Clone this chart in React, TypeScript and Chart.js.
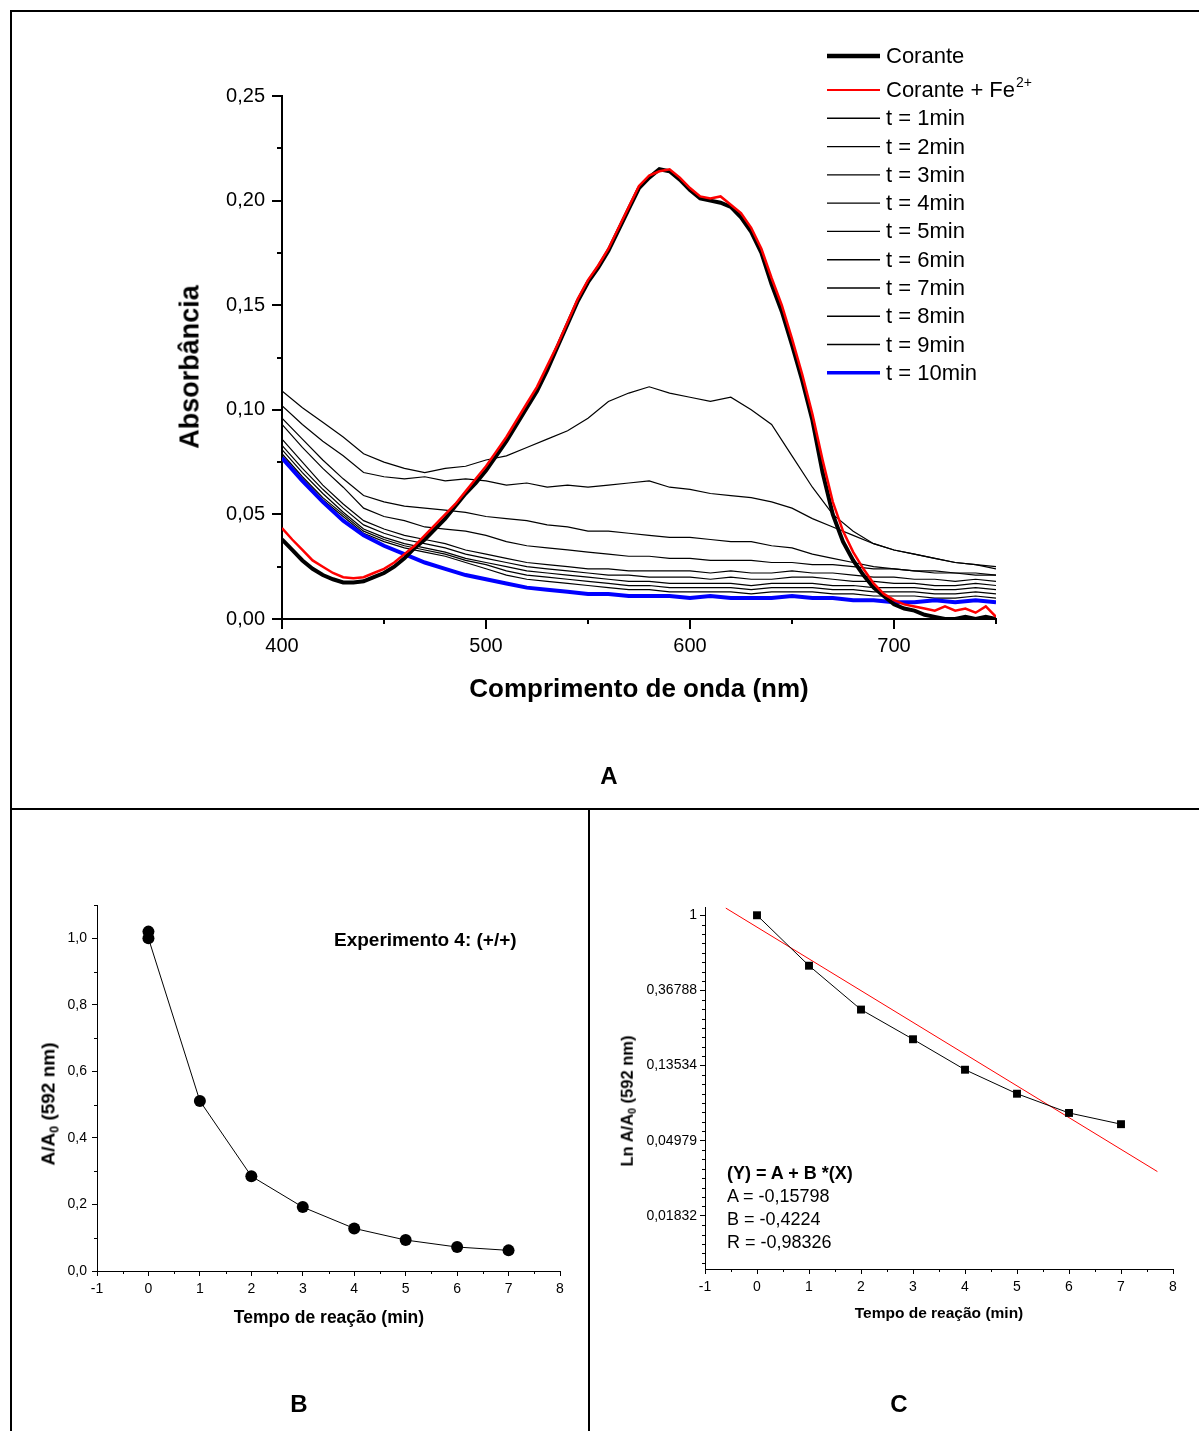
import React, { useEffect, useRef } from "react";
import { Chart, registerables } from "chart.js";

Chart.register(...registerables);

const FONT = "'Liberation Sans', Arial, Helvetica, sans-serif";

// ---------- Panel A: spectra ----------
const wavelengthFine = [400,405,410,415,420,425,430,435,440,445,450,455,460,465,470,475,480,485,490,495,500,505,510,515,520,525,530,535,540,545,550,555,560,565,570,575,580,585,590,595,600,605,610,615,620,625,630,635,640,645,650,655,660,665,670,675,680,685,690,695,700,705,710,715,720,725,730,735,740,745,750];
const wavelength = [400,410,420,430,440,450,460,470,480,490,500,510,520,530,540,550,560,570,580,590,600,610,620,630,640,650,660,670,680,690,700,710,720,730,740,750];

const corante = [0.038,0.033,0.028,0.024,0.021,0.019,0.0175,0.0175,0.018,0.020,0.022,0.025,0.029,0.034,0.038,0.043,0.048,0.054,0.060,0.065,0.071,0.078,0.085,0.093,0.101,0.109,0.119,0.130,0.141,0.152,0.161,0.168,0.176,0.186,0.196,0.206,0.211,0.215,0.214,0.210,0.205,0.201,0.200,0.199,0.197,0.192,0.185,0.175,0.160,0.147,0.131,0.114,0.095,0.070,0.050,0.037,0.028,0.021,0.015,0.011,0.007,0.005,0.004,0.002,0.001,0.000,0.000,0.001,0.000,0.001,0.000];
const coranteFe = [0.0435,0.038,0.033,0.028,0.025,0.022,0.020,0.0195,0.020,0.022,0.024,0.027,0.031,0.035,0.040,0.045,0.050,0.055,0.061,0.067,0.073,0.080,0.087,0.095,0.103,0.111,0.121,0.131,0.142,0.153,0.162,0.169,0.177,0.187,0.197,0.207,0.212,0.214,0.215,0.211,0.206,0.202,0.201,0.202,0.198,0.194,0.187,0.177,0.163,0.150,0.134,0.117,0.098,0.076,0.056,0.042,0.032,0.024,0.017,0.012,0.009,0.007,0.006,0.005,0.004,0.006,0.004,0.005,0.003,0.006,0.001];

const t1 = [0.109,0.101,0.094,0.087,0.079,0.075,0.072,0.070,0.072,0.073,0.076,0.078,0.082,0.086,0.090,0.096,0.104,0.108,0.111,0.108,0.106,0.104,0.106,0.100,0.093,0.078,0.063,0.050,0.042,0.036,0.033,0.031,0.029,0.027,0.026,0.024];
const t2 = [0.102,0.093,0.085,0.078,0.070,0.068,0.067,0.068,0.066,0.067,0.066,0.064,0.065,0.063,0.064,0.063,0.064,0.065,0.066,0.063,0.062,0.060,0.059,0.058,0.056,0.053,0.048,0.044,0.040,0.036,0.033,0.031,0.029,0.027,0.026,0.025];
const t3 = [0.096,0.086,0.076,0.067,0.059,0.056,0.054,0.053,0.052,0.051,0.049,0.048,0.047,0.045,0.044,0.042,0.042,0.041,0.040,0.039,0.039,0.038,0.037,0.037,0.035,0.034,0.031,0.029,0.027,0.025,0.024,0.023,0.022,0.022,0.021,0.021];
const t4 = [0.093,0.082,0.072,0.063,0.053,0.049,0.047,0.044,0.043,0.042,0.040,0.037,0.035,0.034,0.033,0.032,0.031,0.030,0.030,0.029,0.029,0.028,0.028,0.028,0.027,0.027,0.026,0.026,0.025,0.024,0.024,0.023,0.023,0.022,0.022,0.021];
const t5 = [0.086,0.075,0.064,0.055,0.047,0.043,0.040,0.038,0.036,0.033,0.031,0.029,0.027,0.026,0.025,0.024,0.024,0.023,0.023,0.023,0.023,0.022,0.023,0.022,0.022,0.023,0.022,0.022,0.021,0.020,0.020,0.019,0.019,0.018,0.019,0.018];
const t6 = [0.083,0.072,0.062,0.053,0.045,0.041,0.038,0.036,0.034,0.031,0.029,0.027,0.025,0.024,0.023,0.022,0.021,0.021,0.020,0.020,0.020,0.019,0.020,0.019,0.019,0.020,0.020,0.019,0.018,0.018,0.017,0.017,0.016,0.016,0.017,0.016];
const t7 = [0.081,0.070,0.060,0.051,0.043,0.039,0.036,0.034,0.032,0.029,0.027,0.025,0.023,0.022,0.021,0.020,0.019,0.018,0.018,0.017,0.017,0.017,0.017,0.016,0.017,0.017,0.017,0.016,0.016,0.015,0.015,0.015,0.014,0.014,0.015,0.014];
const t8 = [0.079,0.068,0.058,0.050,0.042,0.038,0.035,0.033,0.031,0.028,0.026,0.023,0.021,0.020,0.019,0.018,0.017,0.016,0.016,0.015,0.015,0.015,0.015,0.014,0.015,0.015,0.015,0.014,0.014,0.013,0.013,0.013,0.012,0.012,0.013,0.012];
const t9 = [0.078,0.067,0.057,0.049,0.041,0.037,0.034,0.032,0.030,0.027,0.024,0.021,0.019,0.018,0.017,0.016,0.015,0.014,0.014,0.013,0.013,0.013,0.013,0.012,0.013,0.013,0.013,0.012,0.012,0.011,0.011,0.011,0.010,0.010,0.011,0.010];
const t10 = [0.077,0.066,0.056,0.047,0.040,0.035,0.031,0.027,0.024,0.021,0.019,0.017,0.015,0.014,0.013,0.012,0.012,0.011,0.011,0.011,0.010,0.011,0.010,0.010,0.010,0.011,0.010,0.010,0.009,0.009,0.008,0.008,0.009,0.008,0.009,0.008];
const timeSeries = [t1, t2, t3, t4, t5, t6, t7, t8, t9, t10];
const timeLabels = ["t = 1min","t = 2min","t = 3min","t = 4min","t = 5min","t = 6min","t = 7min","t = 8min","t = 9min","t = 10min"];

const spectraXTicks = [400, 500, 600, 700];
const spectraXMinor = [450, 550, 650, 750];
const spectraYTicks = [0, 0.05, 0.1, 0.15, 0.2, 0.25];
const spectraYMinor = [0.025, 0.075, 0.125, 0.175, 0.225];

// ---------- Panels B & C: kinetics ----------
const reactionTime = [0, 1, 2, 3, 4, 5, 6, 7];
const ratio592 = [1.0, 0.511, 0.285, 0.192, 0.128, 0.093, 0.072, 0.062];
const repeatTime = [0];
const repeatRatio = [1.02];
const fitTime = [-0.6, 7.7];
const fitRatio = [1.10, 0.033];

const timeTicks = [-1, 0, 1, 2, 3, 4, 5, 6, 7, 8];
const timeMinor = [-0.5, 0.5, 1.5, 2.5, 3.5, 4.5, 5.5, 6.5, 7.5];
const ratioTicks = [0, 0.2, 0.4, 0.6, 0.8, 1.0];
const ratioMinor = [0.1, 0.3, 0.5, 0.7, 0.9, 1.1];
const lnTicks = [1, 0.36788, 0.13534, 0.04979, 0.01832];
const lnTickLabels = ["1", "0,36788", "0,13534", "0,04979", "0,01832"];

const pts = (xs: number[], ys: number[]) => xs.map((x, i) => ({ x, y: ys[i] }));

function minorTicks(xVals: number[], yVals: number[], len: number, width: number) {
  return {
    id: "minorTicks",
    afterDraw(chart: any) {
      const ctx = chart.ctx;
      const xs = chart.scales.x;
      const ys = chart.scales.y;
      const off = width % 2 === 1 ? 0.5 : 0;
      ctx.save();
      ctx.strokeStyle = "#000";
      ctx.lineWidth = width;
      ctx.beginPath();
      for (const v of xVals) {
        const px = Math.round(xs.getPixelForValue(v)) + off;
        ctx.moveTo(px, chart.chartArea.bottom);
        ctx.lineTo(px, chart.chartArea.bottom + len);
      }
      for (const v of yVals) {
        const py = Math.round(ys.getPixelForValue(v)) + off;
        ctx.moveTo(chart.chartArea.left, py);
        ctx.lineTo(chart.chartArea.left - len, py);
      }
      ctx.stroke();
      ctx.restore();
    },
  };
}

function fixedTicks(vals: number[]) {
  return (s: any) => {
    s.ticks = vals.map((v) => ({ value: v }));
  };
}

function axis(opts: any) {
  return {
    type: opts.type || "linear",
    min: opts.min,
    max: opts.max,
    afterBuildTicks: fixedTicks(opts.ticks),
    afterFit: opts.afterFit,
    grid: {
      display: true,
      drawOnChartArea: false,
      drawTicks: true,
      tickLength: opts.tickLength,
      color: "#000",
      lineWidth: opts.lw,
    },
    border: { display: true, color: "#000", width: opts.lw },
    ticks: {
      color: "#000",
      font: { family: FONT, size: opts.fontSize },
      padding: opts.padding,
      autoSkip: false,
      maxRotation: 0,
      minRotation: 0,
      callback: opts.callback,
    },
  };
}

const A_W = 1187, A_H = 790;
const B_W = 575, B_H = 600;
const C_W = 608, C_H = 600;

export default function App() {
  const refA = useRef<HTMLCanvasElement>(null);
  const refB = useRef<HTMLCanvasElement>(null);
  const refC = useRef<HTMLCanvasElement>(null);

  useEffect(() => {
    const charts: Chart[] = [];

    // ---- Panel A ----
    const legendRows = [56, 90, 118.3, 146.6, 174.9, 203.1, 231.4, 259.7, 288, 316.2, 344.5, 372.7].map((v) => v - 12);
    const spectraLegend = {
      id: "spectraLegend",
      afterDraw(chart: any) {
        const ctx = chart.ctx;
        ctx.save();
        chart.data.datasets.forEach((d: any, i: number) => {
          const y = legendRows[i];
          ctx.beginPath();
          ctx.strokeStyle = d.borderColor;
          ctx.lineWidth = d.legendWidth;
          ctx.moveTo(827 - 12, y);
          ctx.lineTo(880 - 12, y);
          ctx.stroke();
          ctx.fillStyle = "#000";
          ctx.font = `22px ${FONT}`;
          ctx.textAlign = "left";
          ctx.textBaseline = "middle";
          ctx.fillText(d.label, 886 - 12, y + 1);
          if (d.sup) {
            const w = ctx.measureText(d.label).width;
            ctx.font = `14px ${FONT}`;
            ctx.fillText(d.sup, 886 - 12 + w + 1, y - 7);
          }
        });
        ctx.restore();
      },
    };

    const lineDs = (label: string, data: any[], color: string, width: number, order: number, legendWidth: number, sup?: string) => ({
      label,
      sup,
      data,
      borderColor: color,
      backgroundColor: color,
      borderWidth: width,
      legendWidth,
      showLine: true,
      pointRadius: 0,
      pointHoverRadius: 0,
      fill: false,
      tension: 0,
      order,
    });

    const spectraDatasets: any[] = [
      lineDs("Corante", pts(wavelengthFine, corante), "#000000", 4, 1, 4.5),
      lineDs("Corante + Fe", pts(wavelengthFine, coranteFe), "#ff0000", 2.5, 0, 2.2, "2+"),
      ...timeSeries.map((s, i) =>
        i === 9
          ? lineDs(timeLabels[i], pts(wavelength, s), "#0000ff", 4, 2, 3.5)
          : lineDs(timeLabels[i], pts(wavelength, s), "#000000", 1.2, 3, 1.4)
      ),
    ];

    if (refA.current) {
      charts.push(
        new Chart(refA.current, {
          type: "scatter",
          data: { datasets: spectraDatasets },
          options: {
            animation: false,
            responsive: false,
            devicePixelRatio: 1,
            events: [],
            layout: { padding: { top: 96 - 12, right: A_W - (996 - 12), left: 0, bottom: 0 } },
            plugins: { legend: { display: false }, tooltip: { enabled: false } },
            scales: {
              x: axis({
                min: 400, max: 750, ticks: spectraXTicks, tickLength: 10, lw: 2, fontSize: 20, padding: 5,
                afterFit: (s: any) => { s.height = A_H - (619 - 12); },
                callback: (v: any) => String(v),
              }),
              y: axis({
                min: 0, max: 0.25, ticks: spectraYTicks, tickLength: 10, lw: 2, fontSize: 20, padding: 7,
                afterFit: (s: any) => { s.width = 282 - 12; },
                callback: (v: any) => Number(v).toFixed(2).replace(".", ","),
              }),
            },
          } as any,
          plugins: [minorTicks(spectraXMinor, spectraYMinor, 5, 2), spectraLegend],
        })
      );
    }

    // ---- Panel B ----
    if (refB.current) {
      charts.push(
        new Chart(refB.current, {
          type: "scatter",
          data: {
            datasets: [
              {
                label: "A/A0",
                data: pts(reactionTime, ratio592),
                showLine: true,
                borderColor: "#000",
                backgroundColor: "#000",
                borderWidth: 1,
                pointRadius: 6,
                pointBorderWidth: 0,
                pointStyle: "circle",
                tension: 0,
              },
              {
                label: "A/A0 rep",
                data: pts(repeatTime, repeatRatio),
                showLine: false,
                borderColor: "#000",
                backgroundColor: "#000",
                pointRadius: 6,
                pointBorderWidth: 0,
              },
            ],
          },
          options: {
            animation: false,
            responsive: false,
            devicePixelRatio: 1,
            events: [],
            layout: { padding: { top: 905 - 812, right: B_W - (560 - 12), left: 0, bottom: 0 } },
            plugins: { legend: { display: false }, tooltip: { enabled: false } },
            scales: {
              x: axis({
                min: -1, max: 8, ticks: timeTicks, tickLength: 5, lw: 1, fontSize: 14, padding: 5,
                afterFit: (s: any) => { s.height = B_H - (1271 - 812); },
                callback: (v: any) => String(v),
              }),
              y: axis({
                min: 0, max: 1.1, ticks: ratioTicks, tickLength: 5, lw: 1, fontSize: 14, padding: 5,
                afterFit: (s: any) => { s.width = 97 - 12; },
                callback: (v: any) => Number(v).toFixed(1).replace(".", ","),
              }),
            },
          } as any,
          plugins: [minorTicks(timeMinor, ratioMinor, 3, 1)],
        })
      );
    }

    // ---- Panel C ----
    if (refC.current) {
      const lnMin = Math.exp(-4.708);
      const lnMax = Math.exp(0.11);
      const lnMinor: number[] = [];
      for (let k = 1; k <= 37; k++) {
        if (k % 8 !== 0) lnMinor.push(Math.exp(-k / 8));
      }
      charts.push(
        new Chart(refC.current, {
          type: "scatter",
          data: {
            datasets: [
              {
                label: "fit",
                data: pts(fitTime, fitRatio),
                showLine: true,
                borderColor: "#ff0000",
                borderWidth: 1,
                pointRadius: 0,
                tension: 0,
                order: 1,
              },
              {
                label: "Ln A/A0",
                data: pts(reactionTime, ratio592),
                showLine: true,
                borderColor: "#000",
                backgroundColor: "#000",
                borderWidth: 1,
                pointRadius: 5.6,
                pointBorderWidth: 0,
                pointStyle: "rect",
                tension: 0,
                order: 0,
              },
            ],
          },
          options: {
            animation: false,
            responsive: false,
            devicePixelRatio: 1,
            events: [],
            layout: { padding: { top: 907 - 812, right: C_W - (1173 - 591), left: 0, bottom: 0 } },
            plugins: { legend: { display: false }, tooltip: { enabled: false } },
            scales: {
              x: axis({
                min: -1, max: 8, ticks: timeTicks, tickLength: 5, lw: 1, fontSize: 14, padding: 5,
                afterFit: (s: any) => { s.height = C_H - (1269 - 812); },
                callback: (v: any) => String(v),
              }),
              y: axis({
                type: "logarithmic",
                min: lnMin, max: lnMax, ticks: lnTicks, tickLength: 5, lw: 1, fontSize: 14, padding: 3,
                afterFit: (s: any) => { s.width = 705 - 591; },
                callback: (v: any) => {
                  const idx = lnTicks.findIndex((t) => Math.abs(t - Number(v)) < 1e-4);
                  return idx >= 0 ? lnTickLabels[idx] : "";
                },
              }),
            },
          } as any,
          plugins: [minorTicks(timeMinor, lnMinor, 3, 1)],
        })
      );
    }

    return () => charts.forEach((c) => c.destroy());
  }, []);

  const bold = (size: number): React.CSSProperties => ({
    position: "absolute",
    fontFamily: FONT,
    fontWeight: "bold",
    fontSize: size,
    lineHeight: 1,
    whiteSpace: "nowrap",
    color: "#000",
  });
  const center = (x: number, y: number, rot = false): React.CSSProperties => ({
    left: x,
    top: y,
    transform: rot ? "translate(-50%,-50%) rotate(-90deg)" : "translate(-50%,-50%)",
  });
  const sub: React.CSSProperties = { fontSize: "0.65em", position: "relative", top: "0.3em" };

  return (
    <div style={{ position: "absolute", left: 0, top: 0, width: 1199, height: 1431, background: "#fff", overflow: "hidden" }}>
      {/* table borders */}
      <div style={{ position: "absolute", left: 10, top: 10, width: 1189, height: 2, background: "#000" }} />
      <div style={{ position: "absolute", left: 10, top: 10, width: 2, height: 1421, background: "#000" }} />
      <div style={{ position: "absolute", left: 10, top: 808, width: 1189, height: 2, background: "#000" }} />
      <div style={{ position: "absolute", left: 588, top: 809, width: 2, height: 622, background: "#000" }} />

      <canvas ref={refA} width={A_W} height={A_H} style={{ position: "absolute", left: 12, top: 12, width: A_W, height: A_H }} />
      <canvas ref={refB} width={B_W} height={B_H} style={{ position: "absolute", left: 12, top: 812, width: B_W, height: B_H }} />
      <canvas ref={refC} width={C_W} height={C_H} style={{ position: "absolute", left: 591, top: 812, width: C_W, height: C_H }} />

      {/* Panel A texts */}
      <div style={{ ...bold(27), ...center(190, 367, true) }}>Absorbância</div>
      <div style={{ ...bold(26), ...center(639, 688) }}>Comprimento de onda (nm)</div>
      <div style={{ ...bold(24), ...center(609, 776) }}>A</div>

      {/* Panel B texts */}
      <div style={{ ...bold(19), ...center(48, 1104, true) }}>
        A/A<span style={sub}>0</span> (592 nm)
      </div>
      <div style={{ ...bold(17.5), ...center(329, 1318) }}>Tempo de reação (min)</div>
      <div style={{ ...bold(19), left: 334, top: 939, transform: "translateY(-50%)" }}>Experimento 4: (+/+)</div>
      <div style={{ ...bold(24), ...center(299, 1404) }}>B</div>

      {/* Panel C texts */}
      <div style={{ ...bold(16.5), ...center(627, 1101, true) }}>
        Ln A/A<span style={sub}>0</span> (592 nm)
      </div>
      <div style={{ ...bold(15.5), ...center(939, 1313) }}>Tempo de reação (min)</div>
      <div style={{ ...bold(18), left: 727, top: 1173, transform: "translateY(-50%)" }}>(Y) = A + B *(X)</div>
      <div style={{ ...bold(18), fontWeight: "normal", left: 727, top: 1196, transform: "translateY(-50%)" }}>A = -0,15798</div>
      <div style={{ ...bold(18), fontWeight: "normal", left: 727, top: 1219, transform: "translateY(-50%)" }}>B = -0,4224</div>
      <div style={{ ...bold(18), fontWeight: "normal", left: 727, top: 1242, transform: "translateY(-50%)" }}>R = -0,98326</div>
      <div style={{ ...bold(24), ...center(899, 1404) }}>C</div>
    </div>
  );
}
